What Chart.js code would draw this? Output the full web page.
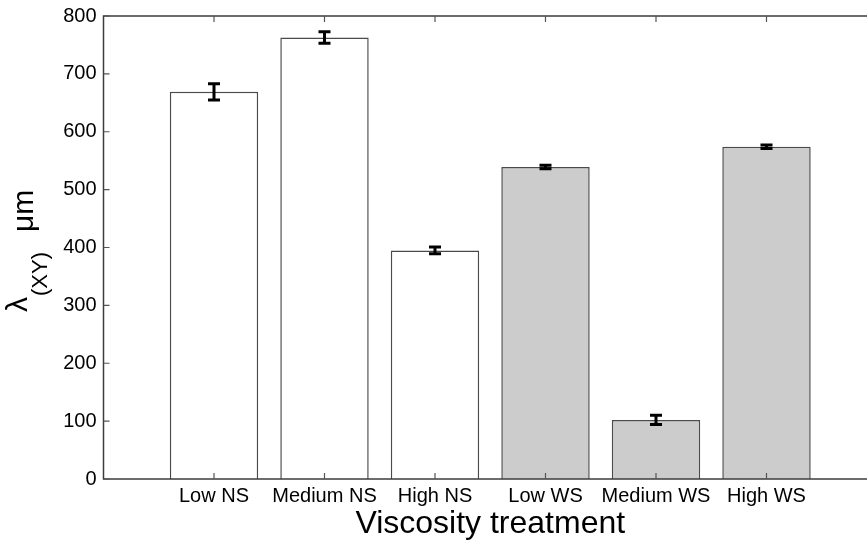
<!DOCTYPE html>
<html>
<head>
<meta charset="utf-8">
<script src="https://cdn.jsdelivr.net/npm/chart.js@4.4.1/dist/chart.umd.min.js"></script>
<style>
  html, body { margin: 0; padding: 0; overflow: hidden; background: #fff; }
  #wrap { width: 867px; height: 544px; overflow: hidden; }
  canvas { display: block; }
</style>
</head>
<body>
<div id="wrap"><canvas id="c" width="890" height="544"></canvas></div>
<script>
// ---- data ----
const categories = ['Low NS', 'Medium NS', 'High NS', 'Low WS', 'Medium WS', 'High WS'];
const groups     = ['NS', 'NS', 'NS', 'WS', 'WS', 'WS'];
const means      = [669, 763, 395, 539, 102, 574];
const errors     = [14, 10, 6, 3, 8, 3];
const yTicks     = [0, 100, 200, 300, 400, 500, 600, 700, 800];

const FONT = '"Liberation Sans", Arial, Helvetica, sans-serif';
const groupFill = { NS: '#ffffff', WS: '#cccccc' };

const points = means.map((v, i) => ({ x: i + 1, y: v }));

const framePlugin = {
  id: 'frame',
  afterDatasetsDraw(chart) {
    const { ctx, chartArea: a, scales: { x, y } } = chart;
    ctx.save();
    // error bars
    ctx.strokeStyle = '#000';
    ctx.lineWidth = 3;
    ctx.lineCap = 'butt';
    means.forEach((m, i) => {
      const px = x.getPixelForValue(i + 1);
      const yt = y.getPixelForValue(m + errors[i]);
      const yb = y.getPixelForValue(m - errors[i]);
      ctx.beginPath();
      ctx.moveTo(px, yt); ctx.lineTo(px, yb);
      ctx.moveTo(px - 6, yt); ctx.lineTo(px + 6, yt);
      ctx.moveTo(px - 6, yb); ctx.lineTo(px + 6, yb);
      ctx.stroke();
    });
    // frame
    ctx.strokeStyle = '#3c3c3c';
    ctx.lineWidth = 1.5;
    ctx.strokeRect(a.left, a.top, a.right - a.left, a.bottom - a.top);
    // inward ticks
    ctx.strokeStyle = '#555';
    ctx.lineWidth = 1.2;
    ctx.beginPath();
    categories.forEach((c, i) => {
      const px = x.getPixelForValue(i + 1);
      ctx.moveTo(px, a.bottom); ctx.lineTo(px, a.bottom - 6);
      ctx.moveTo(px, a.top); ctx.lineTo(px, a.top + 6);
    });
    yTicks.forEach(t => {
      const py = y.getPixelForValue(t);
      ctx.moveTo(a.left, py); ctx.lineTo(a.left + 6, py);
      ctx.moveTo(a.right, py); ctx.lineTo(a.right - 6, py);
    });
    ctx.stroke();
    ctx.restore();
  },
  afterDraw(chart) {
    const { ctx, chartArea: a } = chart;
    ctx.save();
    ctx.fillStyle = '#000';
    // x title
    ctx.font = '32px ' + FONT;
    ctx.textAlign = 'center';
    ctx.textBaseline = 'alphabetic';
    ctx.fillText('Viscosity treatment', (a.left + a.right) / 2, 533);
    // y title with subscript, rotated
    ctx.rotate(-Math.PI / 2);
    ctx.textAlign = 'left';
    let pos = -312; // rotated x = -screen y
    ctx.font = '30px ' + FONT;
    ctx.fillText('λ', pos, 27);
    pos += ctx.measureText('λ').width + 1;
    ctx.font = '22px ' + FONT;
    ctx.fillText('(XY)', pos, 47);
    pos += ctx.measureText('(XY)').width + 20;
    ctx.font = '30px ' + FONT;
    ctx.fillText('μm', pos, 33);
    ctx.restore();
  }
};

new Chart(document.getElementById('c'), {
  type: 'bar',
  data: {
    datasets: [{
      data: points,
      backgroundColor: groups.map(g => groupFill[g]),
      borderColor: '#4a4a4a',
      borderWidth: 1.5,
      barPercentage: 0.8,
      categoryPercentage: 1.0
    }]
  },
  options: {
    responsive: false,
    animation: false,
    devicePixelRatio: 1,
    layout: { padding: { left: 0, right: 13, top: 16, bottom: 0 } },
    plugins: { legend: { display: false }, tooltip: { enabled: false } },
    scales: {
      x: {
        type: 'linear',
        offset: false,
        min: 0, max: 7,
        grid: { display: false, drawTicks: false, offset: false },
        border: { display: false },
        afterFit(s) { s.height = 65; s.paddingLeft = 0; s.paddingRight = 0; },
        afterBuildTicks(s) { s.ticks = categories.map((c, i) => ({ value: i + 1 })); },
        ticks: {
          autoSkip: false,
          maxRotation: 0,
          padding: 5,
          color: '#000',
          font: { family: FONT, size: 20 },
          callback: v => categories[v - 1] || ''
        }
      },
      y: {
        min: 0, max: 800,
        grid: { display: false, drawTicks: false },
        border: { display: false },
        afterFit(s) { s.width = 103.5; s.paddingTop = 0; s.paddingBottom = 0; },
        afterBuildTicks(s) { s.ticks = yTicks.map(v => ({ value: v })); },
        ticks: {
          padding: 7,
          color: '#000',
          font: { family: FONT, size: 20 }
        }
      }
    }
  },
  plugins: [framePlugin]
});
</script>
</body>
</html>
